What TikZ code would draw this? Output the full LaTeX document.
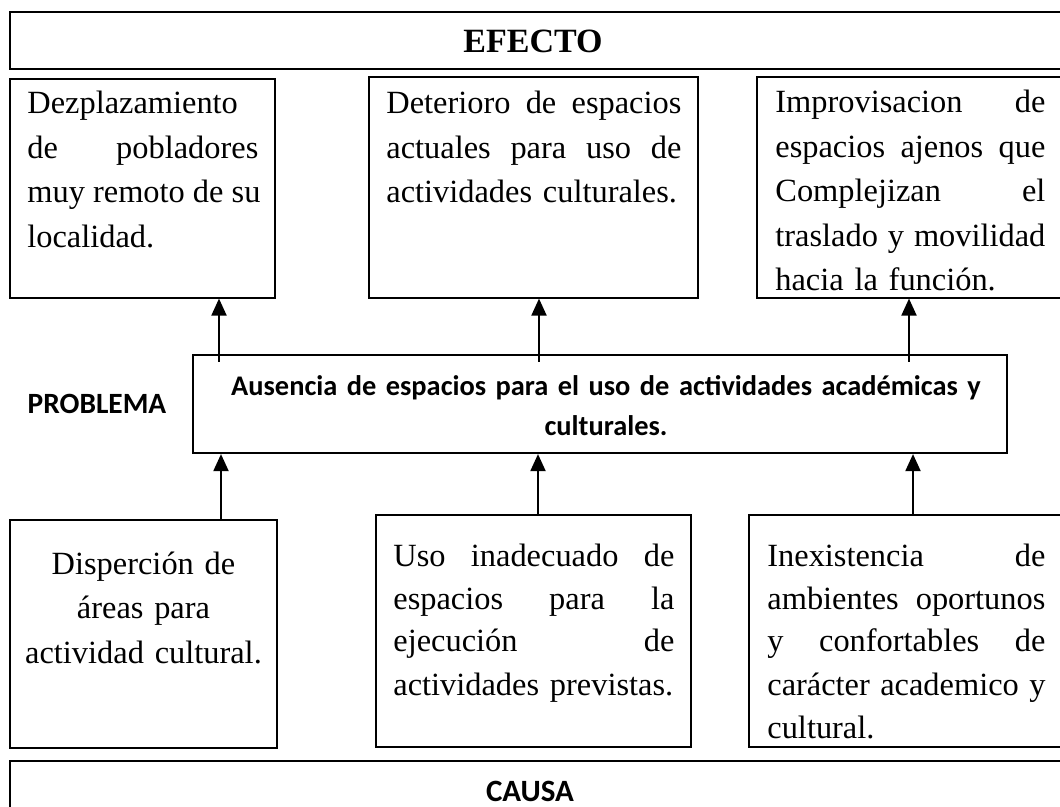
\documentclass[tikz,border=0pt]{standalone}
\usepackage{fontspec}
\setmainfont{Liberation Serif}
\newfontfamily\calfont{Carlito}
\usetikzlibrary{arrows.meta,fit,calc}
\tikzset{
  thinbox/.style={draw, line width=0.6pt, inner sep=0pt},
  thickbox/.style={draw, line width=1.1pt, inner sep=0pt},
  body/.style={font=\fontsize{16.2}{22.25}\selectfont, inner sep=0pt, anchor=base west, align=left},
  bodyc/.style={font=\fontsize{16.2}{22.25}\selectfont, inner sep=0pt, anchor=base, align=center},
  headserif/.style={font=\fontsize{17}{20}\selectfont\bfseries, inner sep=0pt, anchor=base},
  headsans/.style={font=\fontsize{14.7}{20}\selectfont\calfont\bfseries, inner sep=0pt, anchor=base},
  arr/.style={line width=1pt, -{Triangle[length=8.5pt,width=7.5pt]}},
}
\newcommand\jl[2]{\leavevmode\hbox to #1{\spaceskip=\fontdimen2\font plus 1fil\relax #2}}
\begin{document}
\begin{tikzpicture}[x=0.5pt,y=-0.5pt]
\useasboundingbox (0,0) rectangle (1060,807);
% header / footer
\node[thickbox, fit={(10,12)(1075,69)}] (efecto) {};
\node[headserif] (efectotxt) at (533,53) {EFECTO};
\node[thickbox, fit={(10,761)(1075,840)}] (causa) {};
\node[headsans, font=\fontsize{15.5}{20}\selectfont\calfont\bfseries] (causatxt) at (530,801) {CAUSA};
% effect boxes
\node[thinbox, fit={(10,79)(275,298)}] (t1) {};
\node[thinbox, fit={(369,77)(698,298)}] (t2) {};
\node[thinbox, fit={(757,77)(1075,298)}] (t3) {};
\node[body, text width=115.5pt] (t1txt) at (27,114) {Dezplazamiento\\ \jl{115.5pt}{de pobladores}\\ \jl{115.5pt}{muy remoto de su}\\ localidad.};
\node[body, text width=147.5pt] (t2txt) at (386,114) {\jl{147.5pt}{Deterioro de espacios}\\ \jl{147.5pt}{actuales para uso de}\\ actividades culturales.};
\node[body, text width=135pt] (t3txt) at (775,113) {\jl{135pt}{Improvisacion de}\\ \jl{135pt}{espacios ajenos que}\\ \jl{135pt}{Complejizan el}\\ \jl{135pt}{traslado y movilidad}\\ hacia la función.};
% problem
\node[headsans] (problema) at (97,414) {PROBLEMA};
\node[thickbox, fit={(193,355)(1007,453)}] (prob) {};
\node[headsans, align=center, text width=400pt, font=\fontsize{14.2}{20}\selectfont\calfont\bfseries] (probtxt) at (606,396) {Ausencia de espacios para el uso de actividades académicas y\\ culturales.};
% cause boxes
\node[thinbox, fit={(10,520)(277,748)}] (b1) {};
\node[thinbox, fit={(376,515)(691,747)}] (b2) {};
\node[thinbox, fit={(749,515)(1075,747)}] (b3) {};
\node[bodyc, text width=125pt] (b1txt) at (143.5,574) {Disperción de\\ áreas para\\ actividad cultural.};
\node[body, text width=140.5pt, font=\fontsize{16.2}{21.5}\selectfont] (b2txt) at (393,566) {\jl{140.5pt}{Uso inadecuado de}\\ \jl{140.5pt}{espacios para la}\\ \jl{140.5pt}{ejecución de}\\ actividades previstas.};
\node[body, text width=139pt, font=\fontsize{16.2}{21.5}\selectfont] (b3txt) at (767,566) {\jl{139pt}{Inexistencia de}\\ \jl{139pt}{ambientes oportunos}\\ \jl{139pt}{y confortables de}\\ \jl{139pt}{carácter academico y}\\ cultural.};
% arrow columns
\coordinate (u1) at (219,0);
\coordinate (u2) at (539,0);
\coordinate (u3) at (909,0);
\coordinate (d1) at (221,0);
\coordinate (d2) at (538,0);
\coordinate (d3) at (913,0);
\draw[arr] ($(prob.north -| u1)+(0,8)$) -- (t1.south -| u1);
\draw[arr] ($(prob.north -| u2)+(0,8)$) -- (t2.south -| u2);
\draw[arr] ($(prob.north -| u3)+(0,8)$) -- (t3.south -| u3);
\draw[arr] (b1.north -| d1) -- (prob.south -| d1);
\draw[arr] (b2.north -| d2) -- (prob.south -| d2);
\draw[arr] (b3.north -| d3) -- (prob.south -| d3);
\end{tikzpicture}
\end{document}
